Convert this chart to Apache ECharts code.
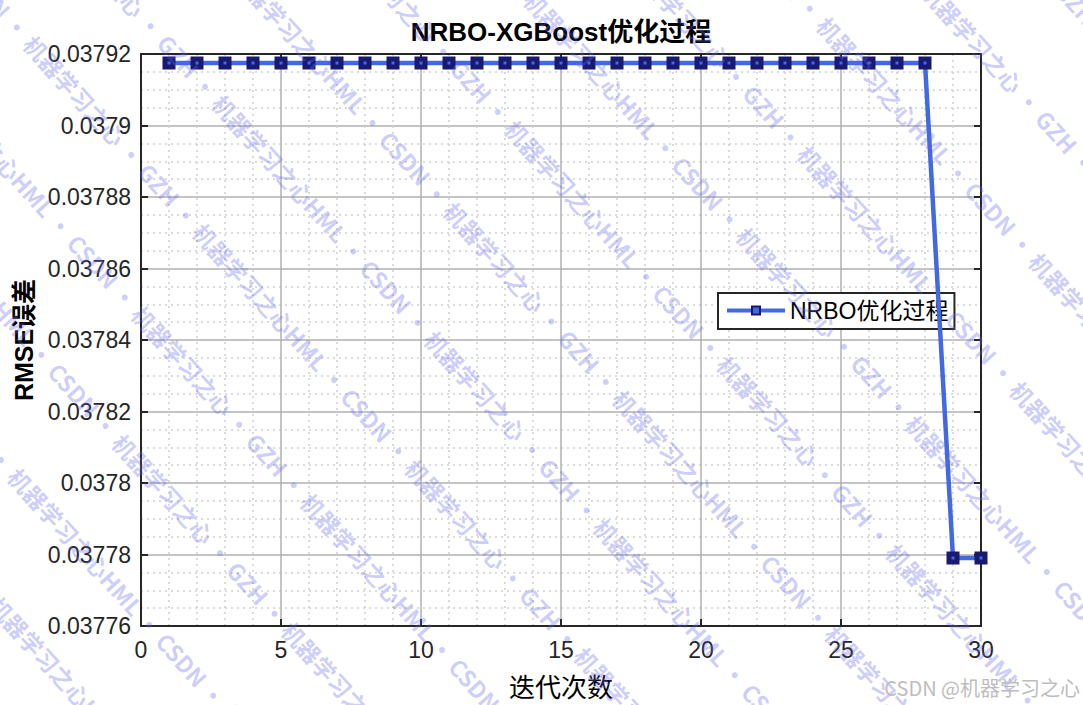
<!DOCTYPE html>
<html>
<head>
<meta charset="utf-8">
<script src="https://cdn.jsdelivr.net/npm/echarts@6/dist/echarts.min.js"></script>
<style>
html,body{margin:0;padding:0;background:#fff;}
#chart{width:1083px;height:705px;}
</style>
</head>
<body>
<div id="chart"></div>
<script>
// ---- data ----
const iterations = [1,2,3,4,5,6,7,8,9,10,11,12,13,14,15,16,17,18,19,20,21,22,23,24,25,26,27,28,29,30];
const rmse = [0.0379175,0.0379175,0.0379175,0.0379175,0.0379175,0.0379175,0.0379175,0.0379175,0.0379175,0.0379175,
              0.0379175,0.0379175,0.0379175,0.0379175,0.0379175,0.0379175,0.0379175,0.0379175,0.0379175,0.0379175,
              0.0379175,0.0379175,0.0379175,0.0379175,0.0379175,0.0379175,0.0379175,0.0379175,0.037779,0.037779];
const seriesName = 'NRBO优化过程';
const titleText = 'NRBO-XGBoost优化过程';
const xName = '迭代次数';
const yName = 'RMSE误差';
const xRange = [0, 30];
const xStep = 5;
const yRange = [0.03776, 0.03792];
const yStep = 0.00002;
const watermarkText = 'CSDN · 机器学习之心 · GZH · 机器学习之心HML · ';
const footerText = 'CSDN @机器学习之心';

// ---- styles ----
const latin = "'Liberation Sans', Arial, 'Noto Sans CJK SC', sans-serif";
const axisColor = '#262626';

function axisBase(extra) {
  return Object.assign({
    type: 'value',
    axisLine: { show: true, onZero: false, lineStyle: { color: axisColor, width: 2 } },
    axisTick: { show: true, inside: true, length: 7, lineStyle: { color: axisColor, width: 2 } },
    axisLabel: { show: false },
    splitLine: { show: false },
  }, extra);
}

const chart = echarts.init(document.getElementById('chart'), null, { renderer: 'svg' });

// watermark strands
const wm = [];
const ang = -48 * Math.PI / 180;
const dx = Math.cos(48 * Math.PI / 180), dy = Math.sin(48 * Math.PI / 180);
for (let i = -6; i <= 8; i++) {
  const back = 40 + ((i * 173) % 380 + 380) % 380;
  const x0 = i * 135 - back * dx;
  const y0 = -10 - back * dy;
  wm.push({
    type: 'text', x: x0, y: y0, rotation: ang, silent: true, z: 100,
    style: { text: watermarkText.repeat(4), fill: 'rgba(100,100,240,0.33)', font: "bold 23px 'Noto Sans CJK SC'" }
  });
}
wm.push({
  type: 'text', right: 3, top: 677, silent: true, z: 101,
  style: { text: footerText, fill: '#bdbdbd', font: "20px 'Noto Sans CJK SC', sans-serif" }
});

chart.setOption({
  backgroundColor: '#fff',
  animation: false,
  title: {
    text: titleText,
    left: 561,
    textAlign: 'center',
    top: 19,
    padding: 0,
    textStyle: { fontSize: 26, fontWeight: 'bold', color: '#000', fontFamily: latin }
  },
  grid: { left: 141, right: 102, top: 54, bottom: 79, show: false },
  legend: {
    data: [seriesName],
    left: 718, top: 293,
    padding: [6, 6, 7, 7],
    borderColor: axisColor, borderWidth: 2, backgroundColor: '#fff',
    itemWidth: 58, itemHeight: 10,
    lineStyle: { width: 4, color: '#4169E1' },
    textStyle: { fontSize: 23, color: '#000', fontFamily: latin }
  },
  xAxis: [
    axisBase({
      min: xRange[0], max: xRange[1], interval: xStep, position: 'bottom',
      axisLabel: { show: true, fontSize: 23, color: axisColor, margin: 12, fontFamily: latin },
      splitLine: { show: true, lineStyle: { color: '#b0b0b0', width: 1.5 } },
      minorTick: { show: false, splitNumber: 5 },
      minorSplitLine: { show: true, lineStyle: { color: '#d0d0d0', width: 1.5, type: [2, 4] } },
      name: xName, nameLocation: 'middle', nameGap: 46,
      nameTextStyle: { fontSize: 26, color: '#000', fontFamily: "'Noto Sans CJK SC', sans-serif" }
    }),
    axisBase({ min: xRange[0], max: xRange[1], interval: xStep, position: 'top' })
  ],
  yAxis: [
    axisBase({
      min: yRange[0], max: yRange[1], interval: yStep, position: 'left',
      axisLabel: { show: true, fontSize: 23, color: axisColor, margin: 10, fontFamily: latin },
      splitLine: { show: true, lineStyle: { color: '#b0b0b0', width: 1.5 } },
      minorTick: { show: false, splitNumber: 4 },
      minorSplitLine: { show: true, lineStyle: { color: '#d0d0d0', width: 1.5, type: [2, 4] } },
      name: yName, nameLocation: 'middle', nameGap: 104,
      nameTextStyle: { fontSize: 25, fontWeight: 'bold', color: '#000', fontFamily: latin }
    }),
    axisBase({ min: yRange[0], max: yRange[1], interval: yStep, position: 'right' })
  ],
  series: [{
    name: seriesName,
    type: 'line',
    xAxisIndex: 0, yAxisIndex: 0,
    data: iterations.map((x, i) => [x, rmse[i]]),
    symbol: 'rect', symbolSize: 8,
    clip: false,
    lineStyle: { color: '#4169E1', width: 4.5 },
    itemStyle: { color: '#4169E1', borderColor: '#191970', borderWidth: 5 },
    z: 5
  }],
  graphic: wm
});
</script>
</body>
</html>
